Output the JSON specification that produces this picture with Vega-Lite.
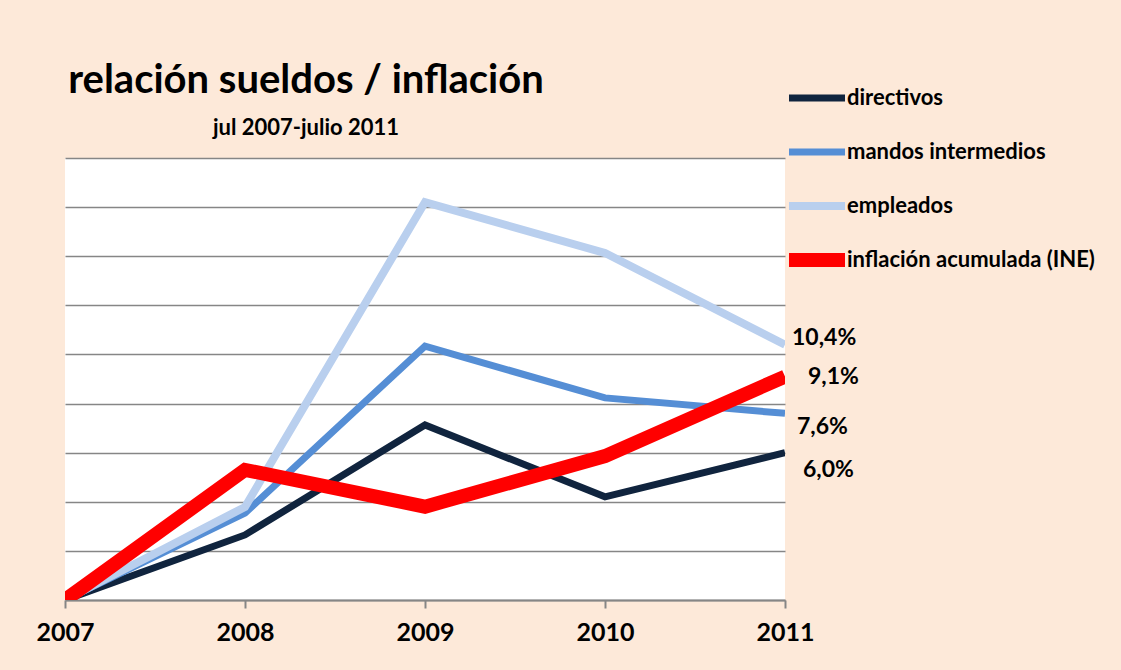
{
  "$schema": "https://vega.github.io/schema/vega-lite/v6.json",
  "width": 720,
  "height": 442,
  "autosize": {"type": "none"},
  "padding": {"left": 65, "top": 158, "right": 336, "bottom": 70},
  "background": "#FDE9D9",
  "title": {
    "text": "relación sueldos / inflación",
    "subtitle": "jul 2007-julio 2011",
    "anchor": "middle",
    "frame": "group",
    "dx": -119,
    "font": "Lato",
    "fontSize": 40,
    "fontWeight": "bold",
    "color": "#000000",
    "subtitleFont": "Lato",
    "subtitleFontSize": 22,
    "subtitleFontWeight": "bold",
    "subtitleColor": "#000000",
    "subtitlePadding": 17,
    "offset": -52
  },
  "data": {
    "values": [
      {"year": 2007, "serie": "directivos", "value": 0},
      {"year": 2008, "serie": "directivos", "value": 0.0265},
      {"year": 2009, "serie": "directivos", "value": 0.0713},
      {"year": 2010, "serie": "directivos", "value": 0.042},
      {"year": 2011, "serie": "directivos", "value": 0.060},
      {"year": 2007, "serie": "mandos intermedios", "value": 0},
      {"year": 2008, "serie": "mandos intermedios", "value": 0.0354},
      {"year": 2009, "serie": "mandos intermedios", "value": 0.1034},
      {"year": 2010, "serie": "mandos intermedios", "value": 0.0823},
      {"year": 2011, "serie": "mandos intermedios", "value": 0.076},
      {"year": 2007, "serie": "empleados", "value": 0},
      {"year": 2008, "serie": "empleados", "value": 0.0379},
      {"year": 2009, "serie": "empleados", "value": 0.162},
      {"year": 2010, "serie": "empleados", "value": 0.1413},
      {"year": 2011, "serie": "empleados", "value": 0.104},
      {"year": 2007, "serie": "inflación acumulada (INE)", "value": 0},
      {"year": 2008, "serie": "inflación acumulada (INE)", "value": 0.053},
      {"year": 2009, "serie": "inflación acumulada (INE)", "value": 0.038},
      {"year": 2010, "serie": "inflación acumulada (INE)", "value": 0.0586},
      {"year": 2011, "serie": "inflación acumulada (INE)", "value": 0.091}
    ]
  },
  "layer": [
    {
      "mark": {"type": "line", "clip": true, "strokeJoin": "miter", "strokeCap": "butt"},
      "encoding": {
        "x": {
          "field": "year", "type": "ordinal",
          "scale": {"type": "point", "padding": 0},
          "axis": {
            "title": null, "labelAngle": 0, "labelFont": "Lato", "labelFontSize": 25,
            "labelFontWeight": "bold", "labelColor": "#000000",
            "domainColor": "#868686", "domainWidth": 2,
            "tickColor": "#868686", "tickWidth": 2, "tickSize": 8,
            "grid": false, "labelPadding": 12
          }
        },
        "y": {
          "field": "value", "type": "quantitative",
          "scale": {"domain": [0, 0.18], "nice": false},
          "axis": {
            "title": null, "labels": false, "ticks": false, "domain": false,
            "grid": true, "gridColor": "#868686", "gridWidth": 1.5,
            "values": [0, 0.02, 0.04, 0.06, 0.08, 0.10, 0.12, 0.14, 0.16, 0.18]
          }
        },
        "color": {
          "field": "serie", "type": "nominal",
          "scale": {
            "domain": ["directivos", "mandos intermedios", "empleados", "inflación acumulada (INE)"],
            "range": ["#10243E", "#558ED5", "#B9CFEE", "#FF0000"]
          },
          "legend": {
            "title": null, "orient": "none", "legendX": 717, "legendY": -71,
            "symbolType": "stroke", "symbolSize": 3136, "symbolStrokeWidth": 7,
            "clipHeight": 22, "rowPadding": 32,
            "labelFont": "Lato", "labelFontSize": 22, "labelFontWeight": "bold",
            "labelColor": "#000000", "labelOffset": -5, "padding": 0, "labelLimit": 400
          }
        },
        "strokeWidth": {
          "field": "serie", "type": "nominal",
          "scale": {
            "type": "ordinal",
            "domain": ["directivos", "mandos intermedios", "empleados", "inflación acumulada (INE)"],
            "range": [7, 7, 8, 14]
          },
          "legend": null
        }
      }
    },
    {
      "transform": [{"filter": "datum.year == 2011 && datum.serie == 'empleados'"}],
      "mark": {"type": "text", "align": "left", "baseline": "middle", "dx": 7, "dy": -7, "font": "Lato", "fontSize": 23, "fontWeight": "bold", "color": "#000000"},
      "encoding": {
        "x": {"field": "year", "type": "ordinal"},
        "y": {"field": "value", "type": "quantitative"},
        "text": {"field": "value", "type": "quantitative", "format": ".1%"}
      }
    },
    {
      "transform": [{"filter": "datum.year == 2011 && datum.serie == 'inflación acumulada (INE)'"}],
      "mark": {"type": "text", "align": "left", "baseline": "middle", "dx": 23, "dy": 0, "font": "Lato", "fontSize": 23, "fontWeight": "bold", "color": "#000000"},
      "encoding": {
        "x": {"field": "year", "type": "ordinal"},
        "y": {"field": "value", "type": "quantitative"},
        "text": {"field": "value", "type": "quantitative", "format": ".1%"}
      }
    },
    {
      "transform": [{"filter": "datum.year == 2011 && datum.serie == 'mandos intermedios'"}],
      "mark": {"type": "text", "align": "left", "baseline": "middle", "dx": 12, "dy": 14, "font": "Lato", "fontSize": 23, "fontWeight": "bold", "color": "#000000"},
      "encoding": {
        "x": {"field": "year", "type": "ordinal"},
        "y": {"field": "value", "type": "quantitative"},
        "text": {"field": "value", "type": "quantitative", "format": ".1%"}
      }
    },
    {
      "transform": [{"filter": "datum.year == 2011 && datum.serie == 'directivos'"}],
      "mark": {"type": "text", "align": "left", "baseline": "middle", "dx": 18, "dy": 17, "font": "Lato", "fontSize": 23, "fontWeight": "bold", "color": "#000000"},
      "encoding": {
        "x": {"field": "year", "type": "ordinal"},
        "y": {"field": "value", "type": "quantitative"},
        "text": {"field": "value", "type": "quantitative", "format": ".1%"}
      }
    }
  ],
  "config": {
    "view": {"fill": "#FFFFFF", "stroke": null},
    "locale": {
      "number": {"decimal": ",", "thousands": ".", "grouping": [3], "currency": ["", " €"]}
    }
  }
}
